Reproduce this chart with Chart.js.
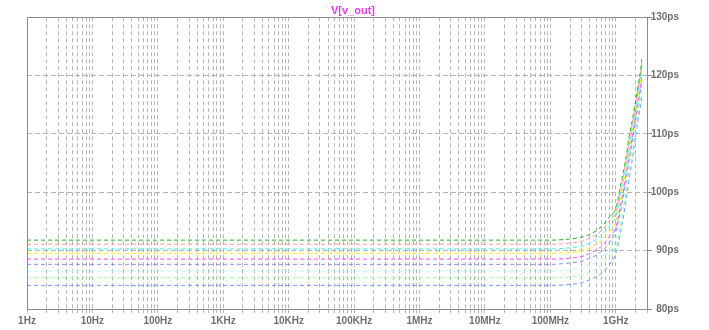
<!DOCTYPE html>
<html>
<head>
<meta charset="utf-8">
<script src="https://cdn.jsdelivr.net/npm/chart.js@4/dist/chart.umd.min.js"></script>
<style>
html,body{margin:0;padding:0;background:#fff;}
#wrap{width:709px;height:330px;position:relative;}
</style>
</head>
<body>
<div id="wrap"><canvas id="c" width="709" height="330"></canvas></div>
<script>
// ---- data ----
const chartTitle = 'V[v_out]';
const freqs = [1, 1e8, 2e8, 3e8, 4e8, 5e8, 6e8, 7e8, 8e8, 1e9, 1.2e9, 1.4e9, 1.6e9, 1.8e9, 2e9, 2.2e9, 2.4e9, 2.5e9];
const s1 = [91.8, 91.8, 92.0, 92.3, 92.8, 93.4, 94.1, 94.9, 95.8, 97.3, 101.5, 105.3, 109.5, 112.5, 115.5, 118.3, 121.0, 122.8];
const s2 = [91.1, 91.1, 91.3, 91.6, 92.1, 92.7, 93.4, 94.2, 95.1, 96.6, 100.8, 104.6, 108.9, 111.9, 115.0, 117.8, 120.5, 122.2];
const s3 = [90.3, 90.3, 90.5, 90.8, 91.3, 91.9, 92.6, 93.4, 94.2, 95.8, 100.0, 103.9, 108.1, 111.2, 114.4, 117.2, 119.9, 121.6];
const s4 = [89.55, 89.55, 89.7, 90.0, 90.5, 91.1, 91.8, 92.6, 93.4, 95.0, 99.2, 103.1, 107.4, 110.6, 113.8, 116.6, 119.3, 120.9];
const s5 = [88.55, 88.55, 88.7, 89.0, 89.5, 90.1, 90.7, 91.5, 92.4, 94.0, 98.1, 102.2, 106.5, 109.7, 113.0, 115.9, 118.5, 120.0];
const s6 = [87.65, 87.65, 87.9, 88.2, 88.7, 89.2, 89.9, 90.6, 91.5, 93.2, 97.3, 101.3, 105.7, 109.0, 112.3, 115.2, 117.8, 119.3];
const s7 = [86.5, 86.5, 86.7, 87.0, 87.5, 88.0, 88.7, 89.4, 90.2, 92.0, 96.1, 100.2, 104.6, 107.9, 111.4, 114.4, 116.9, 118.3];
const s8 = [85.35, 85.35, 85.5, 85.8, 86.3, 86.8, 87.5, 88.2, 89.0, 90.8, 94.9, 99.1, 103.5, 106.9, 110.5, 113.5, 116.0, 117.3];
const s9 = [84.05, 84.05, 84.2, 84.5, 85.0, 85.5, 86.1, 86.8, 87.6, 89.5, 93.5, 97.8, 102.3, 105.8, 109.5, 112.5, 115.0, 116.2];
const seriesList = [s1, s2, s3, s4, s5, s6, s7, s8, s9];
const xDecades = [1, 10, 100, 1e3, 1e4, 1e5, 1e6, 1e7, 1e8, 1e9];
const xTickLabels = ['1Hz', '10Hz', '100Hz', '1KHz', '10KHz', '100KHz', '1MHz', '10MHz', '100MHz', '1GHz'];
const yTicks = [80, 90, 100, 110, 120, 130];
const yTickLabels = ['80ps', '90ps', '100ps', '110ps', '120ps', '130ps'];
const xMin = 1, xMax = 3e9;

// ---- styles ----
const colors = ['#1fb41f', '#ff9a9a', '#38f4f4', '#f2f200', '#ff44ff', '#8a8aff', '#aaffff', '#9cff9c', '#6a9cff'];
const gridColor = '#b4b4b4';
const axisColor = '#8c8c8c';
const labelColor = '#6e6e6e';
const font = {family: 'Liberation Sans, Arial, sans-serif', size: 10, weight: 'bold'};

const datasets = seriesList.map((s, i) => ({
  data: freqs.map((f, j) => ({x: f, y: s[j]})),
  borderColor: colors[i],
  borderWidth: 1,
  borderDash: [4, 3],
  pointRadius: 0,
  fill: false,
  cubicInterpolationMode: 'monotone'
}));

const frame = {
  id: 'frame',
  afterDraw(chart) {
    const a = chart.chartArea, ctx = chart.ctx;
    ctx.save();
    ctx.strokeStyle = axisColor;
    ctx.lineWidth = 1;
    ctx.strokeRect(Math.round(a.left) + 0.5, Math.round(a.top) + 0.5, Math.round(a.right - a.left), Math.round(a.bottom - a.top));
    ctx.restore();
  }
};

new Chart(document.getElementById('c'), {
  type: 'line',
  data: {datasets},
  plugins: [frame],
  options: {
    responsive: false,
    animation: false,
    layout: {padding: {left: 27, right: 30, top: 0, bottom: 0}},
    plugins: {
      legend: {display: false},
      tooltip: {enabled: false},
      title: {
        display: true, text: chartTitle, color: '#e83ce8',
        font: {family: 'Liberation Sans, Arial, sans-serif', size: 11, weight: 'bold'},
        padding: {top: 4, bottom: 0}
      }
    },
    scales: {
      x: {
        type: 'logarithmic', min: xMin, max: xMax,
        afterBuildTicks(scale) {
          const t = [];
          xDecades.forEach(d => { for (let k = 1; k <= 9; k++) { const v = d * k; if (v <= xMax) t.push({value: v}); } });
          scale.ticks = t;
        },
        afterFit(scale) { scale.height = 21; },
        ticks: {
          autoSkip: false, maxRotation: 0, color: labelColor, font, padding: 2,
          callback(v) { const i = xDecades.indexOf(v); return i >= 0 ? xTickLabels[i] : ''; }
        },
        grid: {color: gridColor, lineWidth: 1, drawTicks: true, tickLength: 4, tickColor: gridColor},
        border: {display: true, color: axisColor, dash: [4, 3]}
      },
      y: {
        type: 'linear', position: 'right', min: 80, max: 130,
        afterBuildTicks(scale) { scale.ticks = yTicks.map(v => ({value: v})); },
        afterFit(scale) { scale.width = 32; },
        ticks: {
          color: labelColor, font, crossAlign: 'far',
          callback(v) { const i = yTicks.indexOf(v); return i >= 0 ? yTickLabels[i] : ''; }
        },
        grid: {color: gridColor, lineWidth: 1, drawTicks: true, tickLength: 5, tickColor: axisColor},
        border: {display: true, color: axisColor, dash: [5, 3]}
      }
    }
  }
});
</script>
</body>
</html>
